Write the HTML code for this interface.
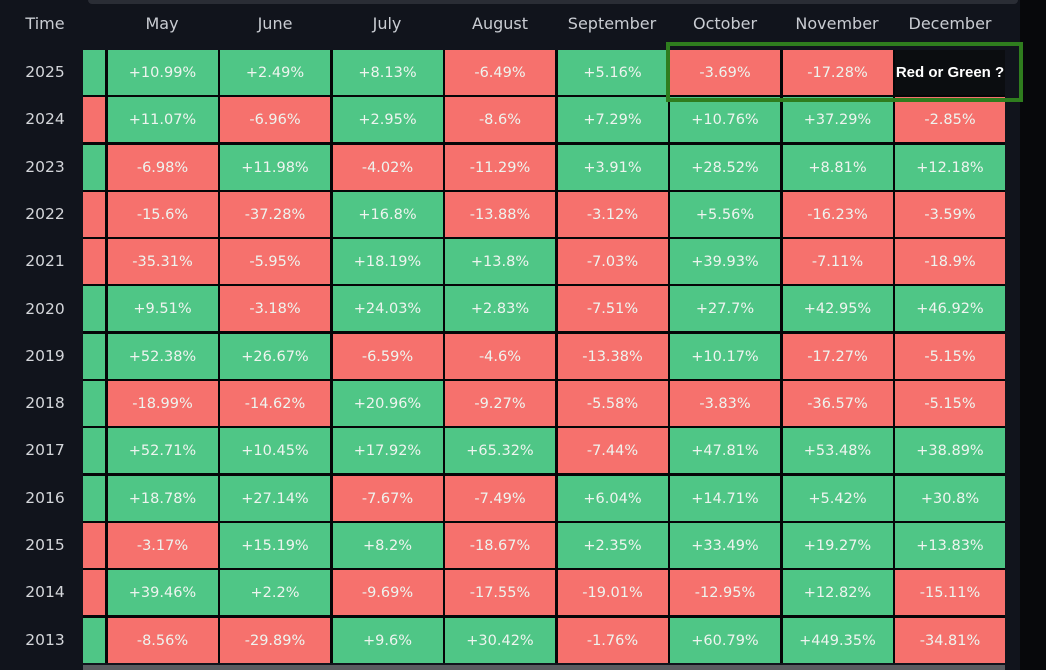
<!DOCTYPE html>
<html><head><meta charset="utf-8"><style>
body{margin:0;width:1046px;height:670px;background:#11141c;overflow:hidden;font-family:"DejaVu Sans","Liberation Sans",sans-serif;position:relative}
.topbar{position:absolute;left:88px;top:0;width:930px;height:4px;background:#2a2d35;border-radius:0 0 4px 4px}
.rightbar{position:absolute;left:1020px;top:0;width:26px;height:670px;background:#07080b}
.hdr{position:absolute;top:14px;height:22px;font-size:16px;color:#c9ccd2;text-align:center;width:110px}
.yr{position:absolute;left:0;width:90px;text-align:center;font-size:15.5px;color:#d4d6da;height:45px;line-height:45px}
.grid{position:absolute;left:83px;top:50px;display:grid;grid-template-columns:22px repeat(8,110px);grid-auto-rows:45px;column-gap:2.5px;row-gap:2.3px;background:#050608}
.grid div{font-size:14.5px;color:#eef4ef;text-align:center;line-height:46px}
.g{background:#4fc686}.r{background:#f6716d}
.sp{background:#0b0d10!important;color:#fff!important;font-family:"Liberation Sans",sans-serif;font-weight:bold;font-size:15px!important}
.box{position:absolute;left:666px;top:42px;width:349px;height:52px;border:4px solid #2f7d1e}
.bottom{position:absolute;left:83px;top:665px;width:922px;height:5px;background:#5a5c60}
</style></head><body>
<div class="topbar"></div><div class="rightbar"></div>
<div class="hdr" style="left:0;width:90px">Time</div>
<div class="hdr" style="left:107px">May</div>
<div class="hdr" style="left:220px">June</div>
<div class="hdr" style="left:332px">July</div>
<div class="hdr" style="left:445px">August</div>
<div class="hdr" style="left:557px">September</div>
<div class="hdr" style="left:670px">October</div>
<div class="hdr" style="left:782px">November</div>
<div class="hdr" style="left:895px">December</div>
<div class="yr" style="top:50px">2025</div>
<div class="yr" style="top:97.3px">2024</div>
<div class="yr" style="top:144.6px">2023</div>
<div class="yr" style="top:191.9px">2022</div>
<div class="yr" style="top:239.2px">2021</div>
<div class="yr" style="top:286.5px">2020</div>
<div class="yr" style="top:333.8px">2019</div>
<div class="yr" style="top:381.1px">2018</div>
<div class="yr" style="top:428.4px">2017</div>
<div class="yr" style="top:475.7px">2016</div>
<div class="yr" style="top:523px">2015</div>
<div class="yr" style="top:570.3px">2014</div>
<div class="yr" style="top:617.6px">2013</div>
<div class="grid">
<div class="g"></div><div class="g">+10.99%</div><div class="g">+2.49%</div><div class="g">+8.13%</div><div class="r">-6.49%</div><div class="g">+5.16%</div><div class="r">-3.69%</div><div class="r">-17.28%</div><div class="sp">Red or Green ?</div>
<div class="r"></div><div class="g">+11.07%</div><div class="r">-6.96%</div><div class="g">+2.95%</div><div class="r">-8.6%</div><div class="g">+7.29%</div><div class="g">+10.76%</div><div class="g">+37.29%</div><div class="r">-2.85%</div>
<div class="g"></div><div class="r">-6.98%</div><div class="g">+11.98%</div><div class="r">-4.02%</div><div class="r">-11.29%</div><div class="g">+3.91%</div><div class="g">+28.52%</div><div class="g">+8.81%</div><div class="g">+12.18%</div>
<div class="r"></div><div class="r">-15.6%</div><div class="r">-37.28%</div><div class="g">+16.8%</div><div class="r">-13.88%</div><div class="r">-3.12%</div><div class="g">+5.56%</div><div class="r">-16.23%</div><div class="r">-3.59%</div>
<div class="r"></div><div class="r">-35.31%</div><div class="r">-5.95%</div><div class="g">+18.19%</div><div class="g">+13.8%</div><div class="r">-7.03%</div><div class="g">+39.93%</div><div class="r">-7.11%</div><div class="r">-18.9%</div>
<div class="g"></div><div class="g">+9.51%</div><div class="r">-3.18%</div><div class="g">+24.03%</div><div class="g">+2.83%</div><div class="r">-7.51%</div><div class="g">+27.7%</div><div class="g">+42.95%</div><div class="g">+46.92%</div>
<div class="g"></div><div class="g">+52.38%</div><div class="g">+26.67%</div><div class="r">-6.59%</div><div class="r">-4.6%</div><div class="r">-13.38%</div><div class="g">+10.17%</div><div class="r">-17.27%</div><div class="r">-5.15%</div>
<div class="g"></div><div class="r">-18.99%</div><div class="r">-14.62%</div><div class="g">+20.96%</div><div class="r">-9.27%</div><div class="r">-5.58%</div><div class="r">-3.83%</div><div class="r">-36.57%</div><div class="r">-5.15%</div>
<div class="g"></div><div class="g">+52.71%</div><div class="g">+10.45%</div><div class="g">+17.92%</div><div class="g">+65.32%</div><div class="r">-7.44%</div><div class="g">+47.81%</div><div class="g">+53.48%</div><div class="g">+38.89%</div>
<div class="g"></div><div class="g">+18.78%</div><div class="g">+27.14%</div><div class="r">-7.67%</div><div class="r">-7.49%</div><div class="g">+6.04%</div><div class="g">+14.71%</div><div class="g">+5.42%</div><div class="g">+30.8%</div>
<div class="r"></div><div class="r">-3.17%</div><div class="g">+15.19%</div><div class="g">+8.2%</div><div class="r">-18.67%</div><div class="g">+2.35%</div><div class="g">+33.49%</div><div class="g">+19.27%</div><div class="g">+13.83%</div>
<div class="r"></div><div class="g">+39.46%</div><div class="g">+2.2%</div><div class="r">-9.69%</div><div class="r">-17.55%</div><div class="r">-19.01%</div><div class="r">-12.95%</div><div class="g">+12.82%</div><div class="r">-15.11%</div>
<div class="g"></div><div class="r">-8.56%</div><div class="r">-29.89%</div><div class="g">+9.6%</div><div class="g">+30.42%</div><div class="r">-1.76%</div><div class="g">+60.79%</div><div class="g">+449.35%</div><div class="r">-34.81%</div>
</div>
<div class="box"></div>
<div class="bottom"></div>
</body></html>
